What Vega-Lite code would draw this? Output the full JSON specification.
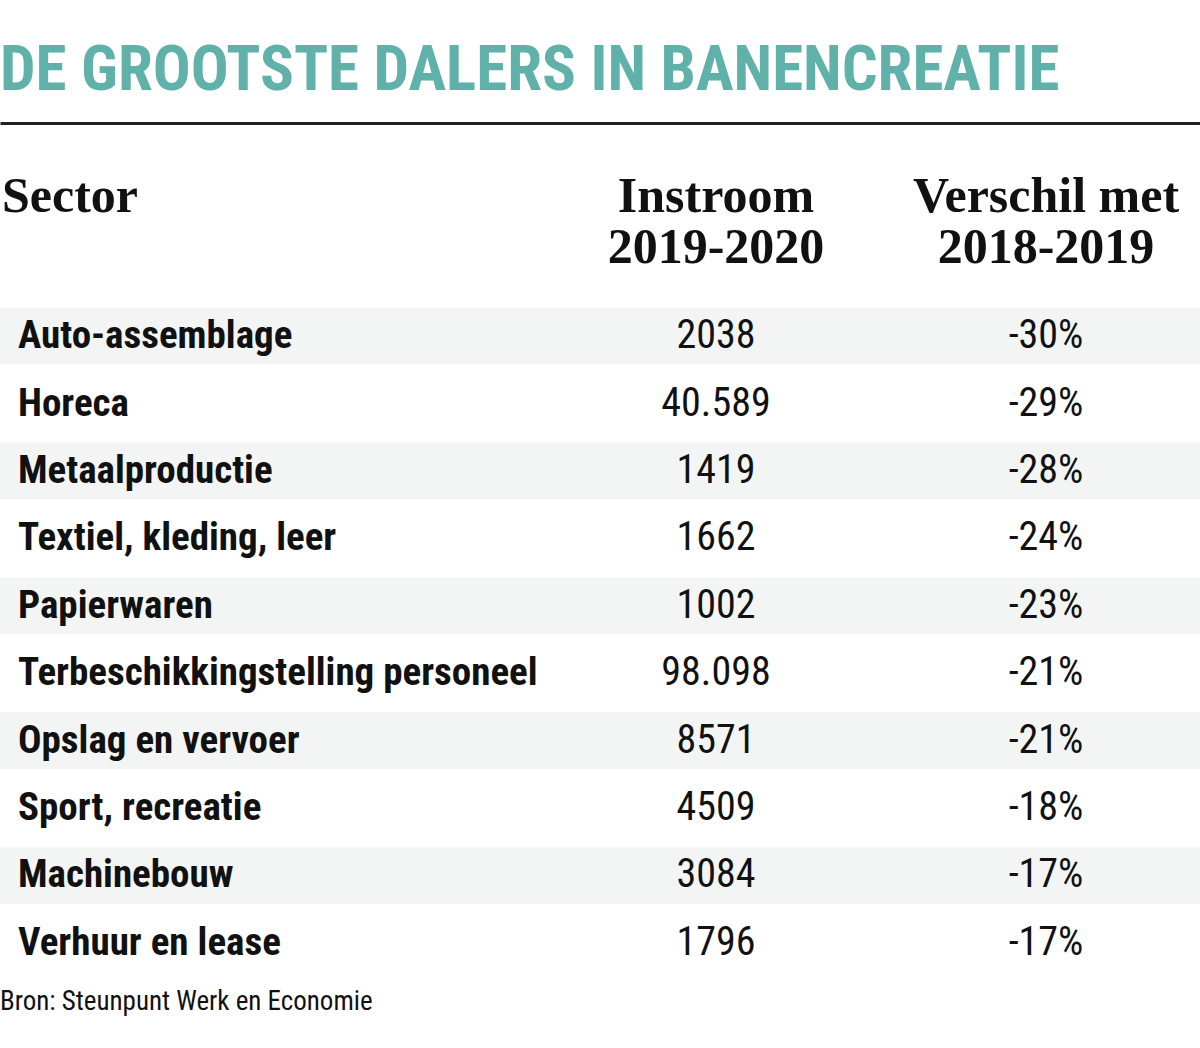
{
  "$schema": "https://vega.github.io/schema/vega-lite/v6.json",
  "width": 1200,
  "height": 809,
  "autosize": {"type": "none"},
  "padding": {"top": 235, "left": 0, "right": 0, "bottom": 4},
  "background": "white",
  "title": {
    "text": "DE GROOTSTE DALERS IN BANENCREATIE",
    "anchor": "start",
    "font": "Roboto Condensed, DejaVu Sans Condensed, sans-serif",
    "fontSize": 63,
    "fontWeight": "bold",
    "color": "#5fb1a9",
    "baseline": "alphabetic",
    "offset": 31,
    "dy": 61
  },
  "datasets": {
    "rows": [
      {"sector": "Auto-assemblage", "instroom": 2038, "verschil": -30},
      {"sector": "Horeca", "instroom": 40589, "verschil": -29},
      {"sector": "Metaalproductie", "instroom": 1419, "verschil": -28},
      {"sector": "Textiel, kleding, leer", "instroom": 1662, "verschil": -24},
      {"sector": "Papierwaren", "instroom": 1002, "verschil": -23},
      {"sector": "Terbeschikkingstelling personeel", "instroom": 98098, "verschil": -21},
      {"sector": "Opslag en vervoer", "instroom": 8571, "verschil": -21},
      {"sector": "Sport, recreatie", "instroom": 4509, "verschil": -18},
      {"sector": "Machinebouw", "instroom": 3084, "verschil": -17},
      {"sector": "Verhuur en lease", "instroom": 1796, "verschil": -17}
    ],
    "header": [
      {"col": "Sector", "label": "Sector"},
      {"col": "Instroom", "label": "Instroom\n2019-2020"},
      {"col": "Verschil", "label": "Verschil met\n2018-2019"}
    ],
    "source": [
      {"label": "Bron: Steunpunt Werk en Economie"}
    ]
  },
  "layer": [
    {
      "data": {"name": "rows"},
      "transform": [
        {"window": [{"op": "row_number", "as": "rn"}]},
        {"filter": "datum.rn % 2 == 1"}
      ],
      "mark": {"type": "rect", "color": "#f3f5f5"},
      "encoding": {
        "y": {"field": "sector", "type": "nominal", "axis": null,
          "scale": {"domain": ["header", "Auto-assemblage", "Horeca", "Metaalproductie", "Textiel, kleding, leer", "Papierwaren", "Terbeschikkingstelling personeel", "Opslag en vervoer", "Sport, recreatie", "Machinebouw", "Verhuur en lease", "src"], "paddingInner": 0.16, "paddingOuter": 0.08}}
      }
    },
    {
      "data": {"name": "rows"},
      "mark": {"type": "text", "align": "left", "baseline": "middle", "dx": -368, "font": "Roboto Condensed, DejaVu Sans Condensed, sans-serif", "fontSize": 39, "fontWeight": "bold", "color": "#111111"},
      "encoding": {
        "x": {"datum": "Sector", "type": "nominal",
          "scale": {"type": "point", "domain": ["Sector", "Instroom", "Verschil"], "padding": 0.8182, "align": 0.7148},
          "axis": {"orient": "top", "offset": 112, "labels": false, "ticks": false, "domain": true, "domainColor": "#231f20", "domainWidth": 3, "title": null, "grid": false}},
        "y": {"field": "sector", "type": "nominal", "axis": null},
        "text": {"field": "sector"}
      }
    },
    {
      "data": {"name": "rows"},
      "transform": [
        {"calculate": "datum.instroom >= 10000 ? replace(format(datum.instroom, ','), ',', '.') : toString(datum.instroom)", "as": "instroomLabel"}
      ],
      "mark": {"type": "text", "align": "center", "baseline": "middle", "font": "Roboto Condensed, DejaVu Sans Condensed, sans-serif", "fontSize": 40, "color": "#111111"},
      "encoding": {
        "x": {"datum": "Instroom", "type": "nominal"},
        "y": {"field": "sector", "type": "nominal", "axis": null},
        "text": {"field": "instroomLabel"}
      }
    },
    {
      "data": {"name": "rows"},
      "transform": [
        {"calculate": "datum.verschil + '%'", "as": "verschilLabel"}
      ],
      "mark": {"type": "text", "align": "center", "baseline": "middle", "font": "Roboto Condensed, DejaVu Sans Condensed, sans-serif", "fontSize": 40, "color": "#111111"},
      "encoding": {
        "x": {"datum": "Verschil", "type": "nominal"},
        "y": {"field": "sector", "type": "nominal", "axis": null},
        "text": {"field": "verschilLabel"}
      }
    },
    {
      "data": {"name": "header"},
      "transform": [{"filter": "datum.col == 'Sector'"}],
      "mark": {"type": "text", "align": "left", "baseline": "alphabetic", "dx": -384, "dy": -57, "lineBreak": "\n", "lineHeight": 51, "font": "Liberation Serif, DejaVu Serif, serif", "fontSize": 50, "fontWeight": "bold", "color": "#111111"},
      "encoding": {
        "x": {"field": "col", "type": "nominal"},
        "y": {"datum": "header", "type": "nominal", "axis": null},
        "text": {"field": "label"}
      }
    },
    {
      "data": {"name": "header"},
      "transform": [{"filter": "datum.col != 'Sector'"}],
      "mark": {"type": "text", "align": "center", "baseline": "alphabetic", "dy": -57, "lineBreak": "\n", "lineHeight": 51, "font": "Liberation Serif, DejaVu Serif, serif", "fontSize": 50, "fontWeight": "bold", "color": "#111111"},
      "encoding": {
        "x": {"field": "col", "type": "nominal"},
        "y": {"datum": "header", "type": "nominal", "axis": null},
        "text": {"field": "label"}
      }
    },
    {
      "data": {"name": "source"},
      "mark": {"type": "text", "align": "left", "baseline": "middle", "dx": -386, "dy": -8, "font": "Roboto Condensed, DejaVu Sans Condensed, sans-serif", "fontSize": 27, "color": "#111111"},
      "encoding": {
        "x": {"datum": "Sector", "type": "nominal"},
        "y": {"datum": "src", "type": "nominal", "axis": null},
        "text": {"field": "label"}
      }
    }
  ],
  "config": {
    "view": {"stroke": null},
    "axis": {"grid": false}
  }
}
